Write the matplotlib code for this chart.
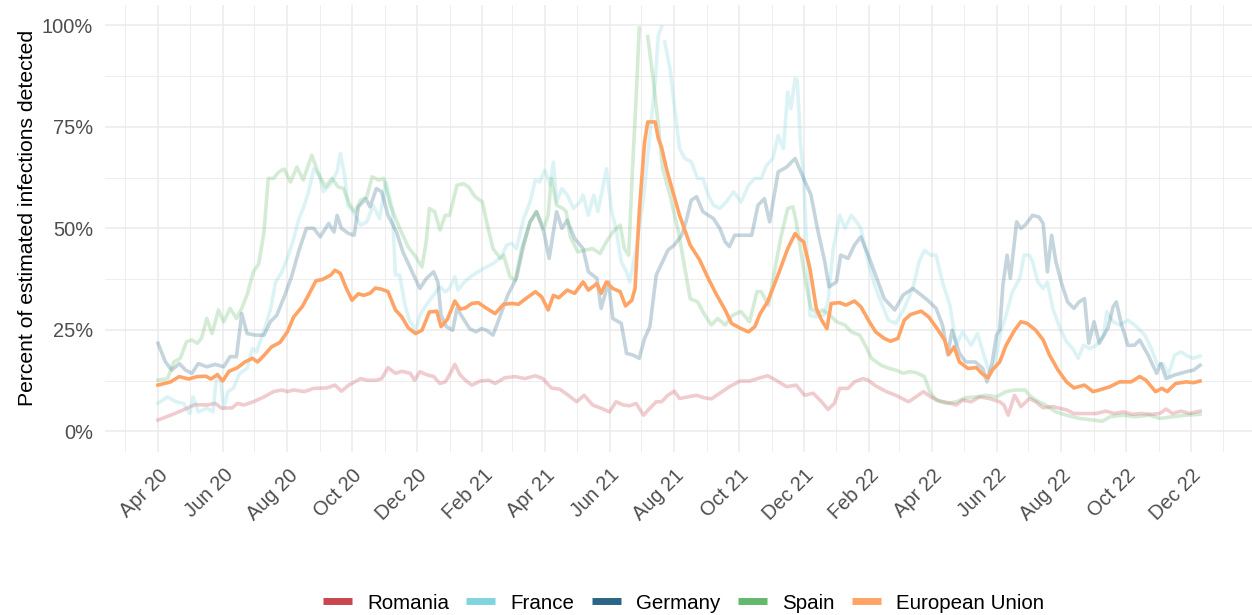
import numpy as np
import pandas as pd
import matplotlib
matplotlib.use("Agg")
import matplotlib.pyplot as plt
import matplotlib.dates as mdates
import matplotlib.transforms as mtransforms
from matplotlib.lines import Line2D
from matplotlib.ticker import FixedLocator, FuncFormatter

plt.rcParams["font.family"] = ["Liberation Sans", "DejaVu Sans"]

# values are percent of estimated infections detected
romania_dates = [
    "2020-04-01", "2020-04-13", "2020-04-25", "2020-05-06", "2020-05-17", "2020-05-25",
    "2020-05-31", "2020-06-10", "2020-06-15", "2020-06-21", "2020-06-30", "2020-07-10",
    "2020-07-19", "2020-07-27", "2020-08-01", "2020-08-07", "2020-08-17", "2020-08-26",
    "2020-09-07", "2020-09-15", "2020-09-21", "2020-09-28", "2020-10-09", "2020-10-15",
    "2020-10-24", "2020-10-29", "2020-11-04", "2020-11-11", "2020-11-17", "2020-11-25",
    "2020-11-29", "2020-12-04", "2020-12-10", "2020-12-17", "2020-12-23", "2020-12-28",
    "2021-01-01", "2021-01-06", "2021-01-11", "2021-01-16", "2021-01-22", "2021-01-30",
    "2021-02-07", "2021-02-13", "2021-02-22", "2021-03-04", "2021-03-13", "2021-03-23",
    "2021-03-30", "2021-04-07", "2021-04-15", "2021-04-23", "2021-05-01", "2021-05-08",
    "2021-05-16", "2021-05-24", "2021-06-01", "2021-06-07", "2021-06-14", "2021-06-20",
    "2021-06-26", "2021-07-03", "2021-07-09", "2021-07-15", "2021-07-20", "2021-07-26",
    "2021-08-01", "2021-08-06", "2021-08-14", "2021-08-22", "2021-08-29", "2021-09-05",
    "2021-09-13", "2021-09-22", "2021-10-02", "2021-10-11", "2021-10-21", "2021-10-28",
    "2021-11-05", "2021-11-15", "2021-11-24", "2021-12-02", "2021-12-10", "2021-12-18",
    "2021-12-24", "2021-12-30", "2022-01-04", "2022-01-12", "2022-01-18", "2022-01-26",
    "2022-01-31", "2022-02-07", "2022-02-17", "2022-02-26", "2022-03-10", "2022-03-17",
    "2022-03-24", "2022-03-31", "2022-04-08", "2022-04-16", "2022-04-24", "2022-04-30",
    "2022-05-08", "2022-05-16", "2022-05-25", "2022-06-04", "2022-06-08", "2022-06-12",
    "2022-06-18", "2022-06-24", "2022-07-02", "2022-07-08", "2022-07-15", "2022-07-24",
    "2022-08-06", "2022-08-13", "2022-08-24", "2022-09-03", "2022-09-12", "2022-09-20",
    "2022-09-29", "2022-10-07", "2022-10-15", "2022-10-25", "2022-11-02", "2022-11-08",
    "2022-11-14", "2022-11-22", "2022-11-30", "2022-12-10",
]
romania_vals = [
    2.8, 4.0, 5.3, 6.6, 6.5, 6.9,
    5.7, 5.8, 6.9, 6.5, 7.3, 8.5,
    9.8, 10.2, 9.8, 10.2, 9.8, 10.6,
    10.7, 11.4, 9.9, 11.4, 13.0, 12.6,
    12.6, 13.0, 15.7, 14.3, 14.8, 14.3,
    12.6, 14.7, 14.0, 13.5, 11.8, 12.2,
    13.9, 16.5, 13.9, 12.6, 11.4, 12.4,
    12.6, 11.8, 13.2, 13.5, 13.0, 13.7,
    13.0, 10.7, 10.4, 8.9, 7.3, 8.9,
    6.5, 5.7, 4.8, 7.3, 6.5, 6.3,
    6.9, 4.0, 5.7, 7.3, 7.3, 8.9,
    9.9, 8.1, 8.5, 8.9, 8.3, 8.0,
    9.4, 11.0, 12.4, 12.4, 13.2, 13.7,
    12.6, 11.0, 11.4, 8.9, 9.4, 7.3,
    5.4, 6.9, 10.6, 10.6, 12.2, 13.0,
    12.6, 11.2, 9.8, 8.9, 7.3, 8.5,
    9.8, 8.5, 7.5, 7.1, 6.5, 7.7,
    7.3, 8.5, 8.1, 7.3, 6.5, 4.0,
    8.9, 6.1, 8.1, 7.3, 5.8, 6.1,
    5.3, 4.4, 4.4, 4.4, 5.0, 4.4,
    4.8, 4.2, 4.4, 4.2, 4.4, 5.5,
    4.4, 5.0, 4.4, 5.0,
]

france_dates = [
    "2020-04-01", "2020-04-10", "2020-04-18", "2020-04-25", "2020-05-01", "2020-05-04",
    "2020-05-09", "2020-05-17", "2020-05-23", "2020-05-26", "2020-05-30", "2020-06-02",
    "2020-06-06", "2020-06-11", "2020-06-17", "2020-06-24", "2020-06-29", "2020-07-03",
    "2020-07-10", "2020-07-16", "2020-07-21", "2020-07-27", "2020-08-02", "2020-08-07",
    "2020-08-12", "2020-08-16", "2020-08-21", "2020-08-26", "2020-08-31", "2020-09-04",
    "2020-09-10", "2020-09-17", "2020-09-20", "2020-09-24", "2020-09-27", "2020-10-02",
    "2020-10-09", "2020-10-15", "2020-10-21", "2020-10-27", "2020-11-02", "2020-11-08",
    "2020-11-11", "2020-11-15", "2020-11-20", "2020-11-24", "2020-11-30", "2020-12-04",
    "2020-12-10", "2020-12-17", "2020-12-23", "2020-12-28", "2021-01-01", "2021-01-06",
    "2021-01-09", "2021-01-15", "2021-01-23", "2021-02-02", "2021-02-11", "2021-02-19",
    "2021-02-24", "2021-03-01", "2021-03-05", "2021-03-12", "2021-03-18", "2021-03-23",
    "2021-03-27", "2021-04-01", "2021-04-06", "2021-04-09", "2021-04-12", "2021-04-17",
    "2021-04-22", "2021-04-28", "2021-05-04", "2021-05-07", "2021-05-12", "2021-05-17",
    "2021-05-21", "2021-05-26", "2021-05-29", "2021-06-03", "2021-06-07", "2021-06-12",
    "2021-06-17", "2021-06-20", "2021-06-26", "2021-07-03", "2021-07-07", "2021-07-14",
    "2021-07-17", "2021-07-20", "2021-07-21", "2021-07-23", "2021-07-28", "2021-08-01",
    "2021-08-06", "2021-08-11", "2021-08-17", "2021-08-23", "2021-08-28", "2021-09-02",
    "2021-09-07", "2021-09-13", "2021-09-19", "2021-09-26", "2021-10-03", "2021-10-10",
    "2021-10-16", "2021-10-22", "2021-10-27", "2021-11-02", "2021-11-07", "2021-11-12",
    "2021-11-16", "2021-11-19", "2021-11-23", "2021-11-25", "2021-11-28", "2021-12-01",
    "2021-12-04", "2021-12-07", "2021-12-13", "2021-12-20", "2021-12-24", "2021-12-29",
    "2022-01-04", "2022-01-09", "2022-01-15", "2022-01-20", "2022-01-24", "2022-01-31",
    "2022-02-06", "2022-02-12", "2022-02-19", "2022-02-26", "2022-03-06", "2022-03-14",
    "2022-03-20", "2022-03-25", "2022-03-31", "2022-04-05", "2022-04-11", "2022-04-18",
    "2022-04-24", "2022-04-30", "2022-05-08", "2022-05-14", "2022-05-21", "2022-05-26",
    "2022-05-30", "2022-06-05", "2022-06-10", "2022-06-16", "2022-06-23", "2022-06-27",
    "2022-07-02", "2022-07-05", "2022-07-10", "2022-07-15", "2022-07-19", "2022-07-24",
    "2022-07-31", "2022-08-06", "2022-08-12", "2022-08-17", "2022-08-22", "2022-08-28",
    "2022-09-03", "2022-09-10", "2022-09-13", "2022-09-19", "2022-09-25", "2022-10-03",
    "2022-10-11", "2022-10-19", "2022-10-25", "2022-10-31", "2022-11-05", "2022-11-10",
    "2022-11-16", "2022-11-22", "2022-11-29", "2022-12-04", "2022-12-10",
]
france_vals = [
    6.9, 8.5, 7.3, 6.9, 4.4, 8.5,
    4.8, 5.7, 4.8, 13.0, 12.6, 5.7,
    9.8, 10.6, 14.3, 15.5, 20.4, 19.6,
    24.9, 29.9, 36.8, 39.3, 43.4, 47.5,
    52.4, 54.9, 59.0, 64.7, 63.1, 59.0,
    60.6, 64.0, 68.4, 63.1, 55.7, 54.1,
    50.8, 51.6, 55.7, 52.4, 61.4, 54.9,
    38.5, 38.5, 31.1, 27.4, 24.9, 28.6,
    31.1, 33.6, 35.6, 34.4, 35.2, 38.1,
    34.8, 36.8, 38.5, 40.1, 41.3, 43.0,
    45.9, 46.3, 45.0, 52.4, 56.5, 61.9,
    61.4, 64.3, 60.6, 66.3, 56.5, 59.8,
    58.2, 54.9, 56.5, 58.2, 53.2, 58.2,
    54.1, 60.6, 64.7, 54.1, 50.0, 41.8,
    39.3, 36.8, 45.0, 57.3, 68.0, 86.1,
    97.5, 99.6, 105.0, 95.9, 89.3, 80.3,
    69.6, 67.2, 66.4, 62.3, 62.3, 58.2,
    55.7, 54.9, 56.5, 59.0, 56.5, 60.6,
    62.3, 62.3, 65.5, 67.2, 72.9, 69.6,
    83.6, 79.5, 86.9, 86.5, 71.3, 63.1,
    45.0, 28.6, 28.2, 28.6, 31.9, 45.0,
    53.2, 50.0, 53.2, 51.6, 50.0, 41.8,
    36.0, 31.9, 27.4, 26.6, 30.3, 35.2,
    41.8, 44.6, 43.4, 43.4, 36.8, 31.1,
    21.2, 24.5, 21.2, 24.1, 18.0, 13.9,
    16.3, 24.5, 28.6, 34.4, 37.7, 43.4,
    43.4, 41.8, 36.8, 35.2, 36.8, 30.3,
    25.3, 22.1, 20.4, 18.0, 21.2, 20.4,
    21.2, 23.7, 29.5, 27.0, 26.2, 27.4,
    25.8, 23.7, 20.4, 16.3, 16.7, 13.9,
    18.8, 19.6, 18.4, 18.0, 18.6,
]

germany_dates = [
    "2020-04-01", "2020-04-08", "2020-04-14", "2020-04-21", "2020-04-27", "2020-05-03",
    "2020-05-09", "2020-05-17", "2020-05-25", "2020-06-02", "2020-06-08", "2020-06-14",
    "2020-06-19", "2020-06-24", "2020-07-02", "2020-07-10", "2020-07-16", "2020-07-22",
    "2020-07-29", "2020-08-05", "2020-08-12", "2020-08-19", "2020-08-26", "2020-09-01",
    "2020-09-09", "2020-09-14", "2020-09-17", "2020-09-21", "2020-09-28", "2020-10-03",
    "2020-10-07", "2020-10-14", "2020-10-18", "2020-10-24", "2020-10-29", "2020-11-04",
    "2020-11-12", "2020-11-18", "2020-11-26", "2020-12-04", "2020-12-10", "2020-12-17",
    "2020-12-21", "2020-12-24", "2020-12-29", "2021-01-04", "2021-01-08", "2021-01-12",
    "2021-01-20", "2021-01-26", "2021-01-31", "2021-02-05", "2021-02-11", "2021-02-18",
    "2021-02-25", "2021-03-05", "2021-03-12", "2021-03-18", "2021-03-24", "2021-03-31",
    "2021-04-05", "2021-04-12", "2021-04-17", "2021-04-22", "2021-04-29", "2021-05-07",
    "2021-05-12", "2021-05-20", "2021-05-24", "2021-05-31", "2021-06-04", "2021-06-12",
    "2021-06-17", "2021-06-23", "2021-06-29", "2021-07-04", "2021-07-09", "2021-07-15",
    "2021-07-20", "2021-07-26", "2021-08-01", "2021-08-08", "2021-08-12", "2021-08-17",
    "2021-08-22", "2021-08-28", "2021-09-07", "2021-09-13", "2021-09-18", "2021-09-22",
    "2021-09-27", "2021-10-05", "2021-10-13", "2021-10-19", "2021-10-25", "2021-10-30",
    "2021-11-07", "2021-11-15", "2021-11-23", "2021-12-01", "2021-12-08", "2021-12-14",
    "2021-12-21", "2021-12-25", "2022-01-01", "2022-01-05", "2022-01-12", "2022-01-18",
    "2022-01-24", "2022-01-31", "2022-02-08", "2022-02-15", "2022-02-25", "2022-03-05",
    "2022-03-14", "2022-03-20", "2022-03-28", "2022-04-05", "2022-04-11", "2022-04-16",
    "2022-04-20", "2022-04-27", "2022-05-03", "2022-05-12", "2022-05-19", "2022-05-23",
    "2022-05-28", "2022-06-01", "2022-06-04", "2022-06-07", "2022-06-11", "2022-06-14",
    "2022-06-20", "2022-06-24", "2022-06-28", "2022-07-05", "2022-07-11", "2022-07-15",
    "2022-07-19", "2022-07-23", "2022-07-27", "2022-08-01", "2022-08-07", "2022-08-13",
    "2022-08-18", "2022-08-23", "2022-08-27", "2022-09-01", "2022-09-06", "2022-09-14",
    "2022-09-19", "2022-09-22", "2022-09-27", "2022-10-03", "2022-10-09", "2022-10-14",
    "2022-10-22", "2022-10-30", "2022-11-03", "2022-11-08", "2022-11-16", "2022-11-27",
    "2022-12-04", "2022-12-10",
]
germany_vals = [
    21.7, 17.1, 15.1, 16.7, 15.1, 14.3,
    16.7, 15.9, 16.5, 15.9, 18.4, 18.4,
    29.0, 24.1, 23.7, 23.7, 27.0, 28.6,
    33.1, 38.1, 44.6, 50.0, 50.0, 47.9,
    51.2, 49.1, 53.2, 50.0, 48.7, 48.3,
    55.3, 57.3, 55.3, 59.8, 59.0, 53.2,
    49.1, 44.2, 39.7, 35.2, 37.6, 39.3,
    36.8, 28.6, 25.8, 24.9, 30.3, 28.6,
    25.3, 24.5, 25.3, 24.9, 23.7, 28.6,
    33.6, 37.7, 45.9, 51.6, 54.1, 49.1,
    42.6, 54.1, 50.0, 52.0, 47.5, 45.0,
    39.3, 37.7, 30.3, 36.8, 27.8, 26.6,
    19.2, 18.8, 18.0, 22.9, 25.8, 38.5,
    41.3, 44.6, 45.9, 48.3, 51.6, 56.9,
    57.8, 54.1, 52.4, 50.0, 46.7, 45.5,
    48.3, 48.3, 48.3, 55.7, 57.3, 51.6,
    63.9, 65.1, 67.2, 62.3, 58.2, 50.0,
    41.8, 35.6, 36.8, 43.4, 42.6, 45.9,
    47.9, 43.4, 37.7, 32.7, 29.9, 33.6,
    35.2, 34.0, 32.3, 30.3, 26.2, 18.8,
    24.9, 19.2, 17.1, 17.1, 15.5, 12.2,
    17.1, 23.7, 25.0, 36.0, 43.4, 37.7,
    51.6, 50.0, 50.8, 53.2, 52.8, 51.2,
    39.3, 48.3, 41.8, 36.8, 31.9, 30.3,
    31.9, 32.7, 21.7, 27.0, 21.7, 25.4,
    30.7, 31.9, 26.2, 21.2, 21.2, 22.5,
    18.8, 14.3, 16.7, 13.0, 13.9, 14.7,
    15.1, 16.3,
]

spain_dates = [
    "2020-04-01", "2020-04-10", "2020-04-16", "2020-04-22", "2020-04-28", "2020-05-03",
    "2020-05-08", "2020-05-12", "2020-05-17", "2020-05-22", "2020-05-28", "2020-06-02",
    "2020-06-08", "2020-06-14", "2020-06-19", "2020-06-24", "2020-06-30", "2020-07-05",
    "2020-07-10", "2020-07-14", "2020-07-19", "2020-07-24", "2020-07-29", "2020-08-04",
    "2020-08-10", "2020-08-16", "2020-08-24", "2020-08-31", "2020-09-06", "2020-09-12",
    "2020-09-18", "2020-09-23", "2020-09-29", "2020-10-04", "2020-10-09", "2020-10-15",
    "2020-10-20", "2020-10-26", "2020-10-31", "2020-11-06", "2020-11-15", "2020-11-23",
    "2020-11-29", "2020-12-06", "2020-12-10", "2020-12-13", "2020-12-18", "2020-12-23",
    "2020-12-28", "2021-01-01", "2021-01-08", "2021-01-14", "2021-01-19", "2021-01-25",
    "2021-02-01", "2021-02-05", "2021-02-11", "2021-02-18", "2021-02-21", "2021-02-27",
    "2021-03-04", "2021-03-10", "2021-03-18", "2021-03-24", "2021-03-31", "2021-04-04",
    "2021-04-07", "2021-04-12", "2021-04-18", "2021-04-21", "2021-04-25", "2021-05-02",
    "2021-05-08", "2021-05-16", "2021-05-23", "2021-05-29", "2021-06-04", "2021-06-11",
    "2021-06-15", "2021-06-19", "2021-06-22", "2021-06-26", "2021-06-29", "2021-07-01",
    "2021-07-05", "2021-07-07", "2021-07-12", "2021-07-17", "2021-07-21", "2021-07-28",
    "2021-08-05", "2021-08-11", "2021-08-16", "2021-08-23", "2021-08-29", "2021-09-05",
    "2021-09-11", "2021-09-18", "2021-09-25", "2021-10-03", "2021-10-11", "2021-10-18",
    "2021-10-22", "2021-10-29", "2021-11-04", "2021-11-10", "2021-11-16", "2021-11-21",
    "2021-11-24", "2021-11-29", "2021-12-03", "2021-12-08", "2021-12-14", "2021-12-19",
    "2021-12-26", "2022-01-01", "2022-01-09", "2022-01-15", "2022-01-23", "2022-01-29",
    "2022-02-03", "2022-02-12", "2022-02-20", "2022-02-26", "2022-03-05", "2022-03-11",
    "2022-03-17", "2022-03-25", "2022-03-30", "2022-04-05", "2022-04-15", "2022-04-24",
    "2022-05-03", "2022-05-13", "2022-05-22", "2022-06-01", "2022-06-10", "2022-06-19",
    "2022-06-28", "2022-07-02", "2022-07-08", "2022-07-17", "2022-07-27", "2022-08-06",
    "2022-08-18", "2022-08-31", "2022-09-09", "2022-09-16", "2022-09-28", "2022-10-10",
    "2022-10-23", "2022-11-02", "2022-11-14", "2022-11-27", "2022-12-10",
]
spain_vals = [
    12.6, 13.0, 17.1, 18.0, 22.1, 22.5,
    21.7, 22.9, 27.8, 24.1, 29.9, 27.0,
    30.3, 27.8, 30.3, 33.6, 39.3, 41.3,
    49.1, 62.3, 62.3, 63.9, 64.6, 61.4,
    65.1, 61.9, 68.0, 63.1, 60.2, 62.3,
    60.2, 59.8, 55.7, 54.1, 56.9, 57.8,
    62.7, 61.9, 62.3, 55.7, 50.0, 45.4,
    43.4, 40.5, 46.7, 54.9, 54.1, 49.6,
    53.2, 53.2, 60.6, 61.0, 60.2, 57.8,
    56.5, 51.6, 45.0, 42.6, 43.4, 38.1,
    37.2, 45.0, 51.6, 54.1, 50.0, 53.2,
    62.3, 55.7, 54.9, 54.1, 47.9, 44.2,
    44.6, 45.0, 43.8, 46.7, 49.1, 50.8,
    45.0, 43.4, 61.4, 82.0, 99.3, 105.0,
    105.0, 97.2, 86.9, 75.4, 64.7, 58.2,
    49.1, 40.1, 32.7, 31.9, 29.0, 26.2,
    27.8, 26.2, 28.6, 29.5, 27.0, 34.4,
    34.4, 31.1, 40.1, 48.3, 54.9, 55.3,
    51.6, 43.4, 36.8, 30.3, 29.0, 29.9,
    28.6, 27.0, 26.2, 24.5, 23.7, 20.8,
    18.0, 16.3, 15.5, 15.1, 14.3, 14.7,
    14.5, 13.5, 9.8, 7.7, 6.9, 7.3,
    8.3, 8.5, 8.9, 8.5, 9.8, 10.2,
    10.2, 8.9, 7.7, 6.5, 4.8, 4.0,
    3.2, 2.8, 2.5, 3.6, 4.0, 3.6,
    4.0, 3.2, 3.6, 4.0, 4.2,
]

eu_dates = [
    "2020-04-01", "2020-04-13", "2020-04-21", "2020-04-30", "2020-05-08", "2020-05-16",
    "2020-05-21", "2020-05-27", "2020-06-01", "2020-06-07", "2020-06-15", "2020-06-22",
    "2020-06-29", "2020-07-04", "2020-07-11", "2020-07-17", "2020-07-25", "2020-08-01",
    "2020-08-07", "2020-08-15", "2020-08-21", "2020-08-28", "2020-09-03", "2020-09-11",
    "2020-09-15", "2020-09-20", "2020-09-25", "2020-10-01", "2020-10-07", "2020-10-12",
    "2020-10-18", "2020-10-23", "2020-10-29", "2020-11-04", "2020-11-11", "2020-11-17",
    "2020-11-23", "2020-11-30", "2020-12-06", "2020-12-13", "2020-12-20", "2020-12-24",
    "2020-12-30", "2021-01-06", "2021-01-11", "2021-01-16", "2021-01-22", "2021-01-28",
    "2021-02-05", "2021-02-13", "2021-02-21", "2021-03-01", "2021-03-07", "2021-03-15",
    "2021-03-23", "2021-03-29", "2021-04-04", "2021-04-09", "2021-04-14", "2021-04-22",
    "2021-04-29", "2021-05-07", "2021-05-12", "2021-05-20", "2021-05-24", "2021-05-29",
    "2021-06-04", "2021-06-11", "2021-06-16", "2021-06-22", "2021-06-25", "2021-06-29",
    "2021-07-04", "2021-07-07", "2021-07-14", "2021-07-17", "2021-07-20", "2021-07-25",
    "2021-07-29", "2021-08-06", "2021-08-16", "2021-08-25", "2021-09-02", "2021-09-10",
    "2021-09-18", "2021-09-24", "2021-10-03", "2021-10-10", "2021-10-16", "2021-10-21",
    "2021-10-28", "2021-11-02", "2021-11-08", "2021-11-16", "2021-11-23", "2021-11-27",
    "2021-12-01", "2021-12-07", "2021-12-13", "2021-12-18", "2021-12-23", "2021-12-27",
    "2022-01-04", "2022-01-10", "2022-01-18", "2022-01-24", "2022-02-01", "2022-02-07",
    "2022-02-15", "2022-02-21", "2022-02-28", "2022-03-06", "2022-03-12", "2022-03-22",
    "2022-03-29", "2022-04-06", "2022-04-13", "2022-04-17", "2022-04-22", "2022-04-27",
    "2022-05-05", "2022-05-13", "2022-05-18", "2022-05-24", "2022-05-28", "2022-06-04",
    "2022-06-10", "2022-06-18", "2022-06-24", "2022-06-30", "2022-07-08", "2022-07-15",
    "2022-07-21", "2022-07-29", "2022-08-06", "2022-08-13", "2022-08-23", "2022-08-31",
    "2022-09-06", "2022-09-16", "2022-09-25", "2022-10-06", "2022-10-14", "2022-10-20",
    "2022-10-29", "2022-11-04", "2022-11-09", "2022-11-17", "2022-11-27", "2022-12-04",
    "2022-12-10",
]
eu_vals = [
    11.4, 12.2, 13.5, 12.9, 13.5, 13.6,
    12.9, 14.0, 12.4, 14.8, 15.7, 17.1,
    18.0, 17.1, 19.0, 20.8, 21.9, 24.5,
    28.2, 30.7, 33.6, 37.1, 37.4, 38.5,
    39.7, 38.9, 35.6, 32.3, 33.9, 33.5,
    34.0, 35.3, 35.0, 34.4, 29.9, 28.2,
    25.5, 24.1, 24.9, 29.4, 29.6, 25.8,
    27.6, 32.1, 30.1, 30.4, 31.5, 31.7,
    30.3, 29.0, 31.3, 31.5, 31.3, 32.9,
    34.4, 33.1, 29.9, 33.5, 32.9, 34.8,
    34.0, 36.8, 34.8, 36.4, 34.0, 36.8,
    35.2, 34.4, 30.9, 32.3, 35.2, 54.1,
    71.3, 76.2, 76.2, 72.1, 70.0, 64.3,
    60.6, 53.2, 45.9, 42.2, 37.7, 33.6,
    29.9, 26.6, 25.3, 24.5, 25.8, 29.0,
    31.9, 35.2, 39.3, 45.0, 48.7, 47.5,
    46.7, 40.1, 30.3, 27.4, 25.3, 31.5,
    31.7, 31.1, 32.1, 30.7, 27.0, 24.5,
    22.9, 22.2, 22.9, 27.4, 28.8, 29.6,
    28.2, 25.3, 22.5, 19.0, 20.8, 17.1,
    15.5, 15.7, 14.3, 13.2, 15.1, 17.1,
    21.2, 24.9, 27.0, 26.6, 24.9, 22.5,
    18.8, 15.1, 12.2, 10.7, 11.4, 9.8,
    10.2, 11.0, 12.2, 12.2, 13.5, 12.6,
    9.8, 10.6, 9.8, 11.8, 12.2, 12.0,
    12.4,
]

series = [
    ("Romania", romania_dates, romania_vals, "#c9464f"),
    ("France", france_dates, france_vals, "#80d4df"),
    ("Germany", germany_dates, germany_vals, "#2b6485"),
    ("Spain", spain_dates, spain_vals, "#62b86b"),
    ("European Union", eu_dates, eu_vals, "#ffa466"),
]

fig = plt.figure(figsize=(12.52, 6.15), dpi=100)
ax = fig.add_axes([105 / 1252, 1 - 451.7 / 615, 1 - 105 / 1252, (451.7 - 5) / 615])

for name, dates, vals, color in series:
    x = pd.to_datetime(dates)
    y = np.array(vals) / 100
    # values above the top of the scale are dropped, like ggplot does
    y = np.where(y > 1.0, np.nan, y)
    if name == "European Union":
        ax.plot(x, y, color=color, linewidth=2.6, solid_joinstyle="round", zorder=5)
    else:
        ax.plot(x, y, color=color, linewidth=2.6, alpha=0.27, solid_joinstyle="round", zorder=3)

ax.set_xlim(pd.Timestamp("2020-02-11"), pd.Timestamp("2023-01-28"))
ax.set_ylim(-0.05, 1.05)

ax.xaxis.set_major_locator(mdates.MonthLocator(bymonth=[2, 4, 6, 8, 10, 12]))
ax.xaxis.set_minor_locator(mdates.MonthLocator())
ax.xaxis.set_major_formatter(mdates.DateFormatter("%b %y"))
ax.yaxis.set_major_locator(FixedLocator([0, 0.25, 0.5, 0.75, 1.0]))
ax.yaxis.set_minor_locator(FixedLocator([0.125, 0.375, 0.625, 0.875]))
ax.yaxis.set_major_formatter(FuncFormatter(lambda v, p: f"{v * 100:.0f}%"))

ax.grid(which="major", color="#ebebeb", linewidth=1.1)
ax.grid(which="minor", color="#ebebeb", linewidth=0.6)
ax.set_axisbelow(True)
for s in ax.spines.values():
    s.set_visible(False)

ax.tick_params(which="both", length=0)
ax.tick_params(axis="y", labelsize=14.4, labelcolor="#4d4d4d", pad=8.5)
ax.tick_params(axis="x", labelsize=14.4, labelcolor="#4d4d4d", pad=10)
offset = mtransforms.ScaledTranslation(0.5 / 100, 0, fig.dpi_scale_trans)
for lab in ax.get_xticklabels():
    lab.set_rotation(45)
    lab.set_ha("right")
    lab.set_va("top")
    lab.set_rotation_mode("anchor")
    lab.set_transform(lab.get_transform() + offset)

ax.set_ylabel("Percent of estimated infections detected", fontsize=15.2, color="black")
ax.yaxis.set_label_coords(-0.0589, 0.523)

handles = [Line2D([0], [0], color=c, linewidth=5, solid_capstyle="butt") for _, _, _, c in series]
labels = [n for n, _, _, _ in series]
fig.legend(handles, labels, loc="center", bbox_to_anchor=(0.546, 0.0195), ncol=5,
           frameon=False, fontsize=14.8, handlelength=1.4, handletextpad=0.75,
           columnspacing=0.85, borderpad=0)

fig.savefig("out.png", dpi=100)
